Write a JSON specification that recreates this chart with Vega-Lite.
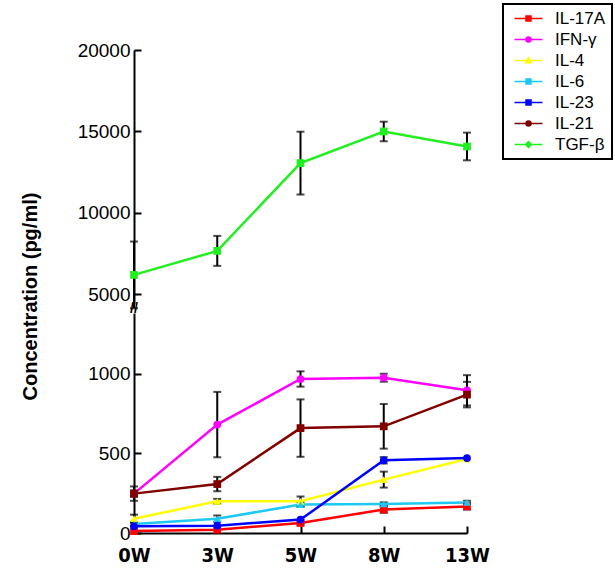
{
  "$schema": "https://vega.github.io/schema/vega-lite/v6.json",
  "padding": {"left": 20, "top": 3, "right": 2, "bottom": 5},
  "background": "white",
  "bounds": "flush",
  "config": {
    "view": {"stroke": null},
    "font": "Liberation Sans",
    "axis": {"grid": false, "domainColor": "black", "tickColor": "black", "domainWidth": 2, "tickWidth": 2, "labelColor": "black", "titleColor": "black"}
  },
  "datasets": {
    "d": [
      {"week": "0W", "cytokine": "IL-17A", "value": 12, "err": 0, "marker": "square"},
      {"week": "3W", "cytokine": "IL-17A", "value": 21, "err": 0, "marker": "square"},
      {"week": "5W", "cytokine": "IL-17A", "value": 63, "err": 10, "marker": "square"},
      {"week": "8W", "cytokine": "IL-17A", "value": 147, "err": 20, "marker": "square"},
      {"week": "13W", "cytokine": "IL-17A", "value": 167, "err": 20, "marker": "square"},
      {"week": "0W", "cytokine": "IFN-γ", "value": 247, "err": 20, "marker": "circle"},
      {"week": "3W", "cytokine": "IFN-γ", "value": 680, "err": 205, "marker": "circle"},
      {"week": "5W", "cytokine": "IFN-γ", "value": 966, "err": 48, "marker": "circle"},
      {"week": "8W", "cytokine": "IFN-γ", "value": 974, "err": 25, "marker": "circle"},
      {"week": "13W", "cytokine": "IFN-γ", "value": 895, "err": 95, "marker": "circle"},
      {"week": "0W", "cytokine": "IL-4", "value": 90, "err": 25, "marker": "triangle-up"},
      {"week": "3W", "cytokine": "IL-4", "value": 199, "err": 15, "marker": "triangle-up"},
      {"week": "5W", "cytokine": "IL-4", "value": 199, "err": 30, "marker": "triangle-up"},
      {"week": "8W", "cytokine": "IL-4", "value": 335, "err": 50, "marker": "triangle-up"},
      {"week": "13W", "cytokine": "IL-4", "value": 464, "err": 0, "marker": "triangle-up"},
      {"week": "0W", "cytokine": "IL-6", "value": 56, "err": 10, "marker": "triangle-up"},
      {"week": "3W", "cytokine": "IL-6", "value": 90, "err": 20, "marker": "triangle-up"},
      {"week": "5W", "cytokine": "IL-6", "value": 178, "err": 15, "marker": "triangle-up"},
      {"week": "8W", "cytokine": "IL-6", "value": 182, "err": 10, "marker": "triangle-up"},
      {"week": "13W", "cytokine": "IL-6", "value": 192, "err": 10, "marker": "triangle-up"},
      {"week": "0W", "cytokine": "IL-23", "value": 42, "err": 0, "marker": "circle"},
      {"week": "3W", "cytokine": "IL-23", "value": 46, "err": 0, "marker": "circle"},
      {"week": "5W", "cytokine": "IL-23", "value": 84, "err": 0, "marker": "circle"},
      {"week": "8W", "cytokine": "IL-23", "value": 456, "err": 20, "marker": "circle"},
      {"week": "13W", "cytokine": "IL-23", "value": 470, "err": 0, "marker": "circle"},
      {"week": "0W", "cytokine": "IL-21", "value": 247, "err": 45, "marker": "square"},
      {"week": "3W", "cytokine": "IL-21", "value": 307, "err": 45, "marker": "square"},
      {"week": "5W", "cytokine": "IL-21", "value": 658, "err": 180, "marker": "square"},
      {"week": "8W", "cytokine": "IL-21", "value": 669, "err": 140, "marker": "square"},
      {"week": "13W", "cytokine": "IL-21", "value": 868, "err": 80, "marker": "square"},
      {"week": "0W", "cytokine": "TGF-β", "value": 6186, "err": 2050, "marker": "square"},
      {"week": "3W", "cytokine": "TGF-β", "value": 7662, "err": 920, "marker": "square"},
      {"week": "5W", "cytokine": "TGF-β", "value": 13053, "err": 1930, "marker": "square"},
      {"week": "8W", "cytokine": "TGF-β", "value": 14996, "err": 600, "marker": "square"},
      {"week": "13W", "cytokine": "TGF-β", "value": 14075, "err": 850, "marker": "square"}
    ],
    "brk": [{"week": "0W", "value": 1405, "t": "//"}]
  },
  "spacing": 9,
  "vconcat": [
    {
      "width": 333,
      "height": 254,
      "data": {"name": "d"},
      "transform": [{"filter": "datum.cytokine === 'TGF-β'"}],
      "encoding": {
        "x": {"field": "week", "type": "ordinal", "sort": ["0W", "3W", "5W", "8W", "13W"], "scale": {"type": "point", "padding": 0}, "axis": null},
        "y": {"field": "value", "type": "quantitative", "scale": {"domain": [4400, 20000], "nice": false, "zero": false},
          "axis": {"values": [5000, 10000, 15000, 20000], "format": "d", "labelFontSize": 19, "labelPadding": 11, "tickSize": -7, "title": "Concentration  (pg/ml)", "titleFontSize": 20, "titleFontWeight": "bold", "titleX": -104, "titleY": 246, "titleAngle": -90, "titleAlign": "center", "titleBaseline": "middle"}}
      },
      "layer": [
        {
          "transform": [{"filter": "datum.err > 0"}],
          "mark": {"type": "errorbar", "ticks": {"size": 8, "color": "black"}, "thickness": 2, "color": "black"},
          "encoding": {"y": {"field": "value", "type": "quantitative"}, "yError": {"field": "err"}}
        },
        {
          "mark": {"type": "line", "strokeWidth": 2.5},
          "encoding": {"color": {"field": "cytokine", "type": "nominal", "scale": {"domain": ["IL-17A", "IFN-γ", "IL-4", "IL-6", "IL-23", "IL-21", "TGF-β"], "range": ["#FF0000", "#FF00FF", "#FFFF00", "#1EC8F5", "#0000FF", "#800000", "#22EE22"]}}}
        },
        {
          "mark": {"type": "point", "filled": true, "size": 60, "opacity": 1},
          "encoding": {
            "color": {"field": "cytokine", "type": "nominal"},
            "shape": {"field": "marker", "type": "nominal", "scale": null, "legend": null}
          }
        }
      ]
    },
    {
      "width": 333,
      "height": 220,
      "data": {"name": "d"},
      "transform": [{"filter": "datum.cytokine !== 'TGF-β'"}],
      "encoding": {
        "x": {"field": "week", "type": "ordinal", "sort": ["0W", "3W", "5W", "8W", "13W"], "scale": {"type": "point", "padding": 0},
          "axis": {"title": null, "labelAngle": 0, "labelFontSize": 20, "labelFont": "'DejaVu Sans Condensed', 'Liberation Sans'", "labelFontWeight": "bold", "labelPadding": 19, "tickSize": -7}},
        "y": {"field": "value", "type": "quantitative", "scale": {"domain": [0, 1380], "nice": false},
          "axis": {"values": [0, 500, 1000], "format": "d", "labelFontSize": 19, "labelPadding": 11, "tickSize": -7, "title": null}}
      },
      "layer": [
        {
          "transform": [{"filter": "datum.err > 0"}],
          "mark": {"type": "errorbar", "ticks": {"size": 8, "color": "black"}, "thickness": 2, "color": "black"},
          "encoding": {"y": {"field": "value", "type": "quantitative"}, "yError": {"field": "err"}}
        },
        {
          "mark": {"type": "line", "strokeWidth": 2.5},
          "encoding": {"color": {"field": "cytokine", "type": "nominal",
            "legend": {"title": null, "orient": "none", "legendX": 369, "legendY": -46, "strokeColor": "black", "padding": 6, "labelFontSize": 17, "labelColor": "black", "rowPadding": 3, "symbolSize": 25, "symbolStrokeWidth": 1.5, "symbolOffset": 11, "labelOffset": 18,
              "encode": {
                "legend": {"update": {"strokeWidth": {"value": 2}}},
                "symbols": {"update": {
                "shape": {"signal": "datum.value === 'IL-17A' || datum.value === 'IL-6' || datum.value === 'IL-23' ? 'M-5.6,0H5.6M-1,-1H1V1H-1Z' : datum.value === 'IL-4' ? 'M-5.6,0H5.6M0,-1.2L1.1,0.9H-1.1Z' : datum.value === 'TGF-β' ? 'M-5.6,0H5.6M0,-1.2L1.2,0L0,1.2L-1.2,0Z' : 'M-5.6,0H5.6M-1,0A1,1 0 1,0 1,0A1,1 0 1,0 -1,0Z'"},
                "fill": {"signal": "scale('color', datum.value)"},
                "stroke": {"signal": "scale('color', datum.value)"},
                "opacity": {"value": 1}
              }}}}}}
        },
        {
          "mark": {"type": "point", "filled": true, "size": 60, "opacity": 1},
          "encoding": {
            "color": {"field": "cytokine", "type": "nominal"},
            "shape": {"field": "marker", "type": "nominal", "scale": null, "legend": null}
          }
        },
        {
          "data": {"name": "brk"},
          "mark": {"type": "text", "fontSize": 14, "fontWeight": "bold", "color": "black", "clip": false},
          "encoding": {"text": {"field": "t"}, "color": {"value": "black"}}
        }
      ]
    }
  ]
}
